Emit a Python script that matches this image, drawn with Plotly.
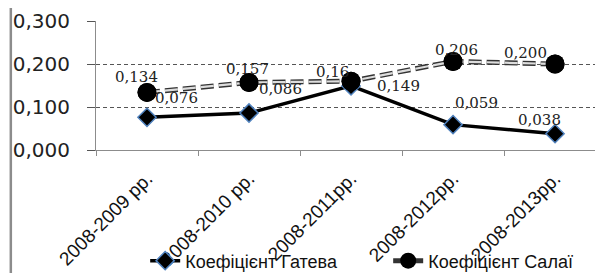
import plotly.graph_objects as go

categories = ["2008-2009 рр.", "2008-2010 рр.", "2008-2011рр.", "2008-2012рр.", "2008-2013рр."]
gatev = [0.076, 0.086, 0.149, 0.059, 0.038]
salai = [0.134, 0.157, 0.16, 0.206, 0.200]
gatev_labels = ["0,076", "0,086", "0,149", "0,059", "0,038"]
salai_labels = ["0,134", "0,157", "0,16", "0,206", "0,200"]
series_names = ["Коефіцієнт Гатева", "Коефіцієнт Салаї"]

# label offsets (px) for data labels
gatev_shift = [(29, 19), (31, 24), (47, 0), (23, 22), (-16, 14)]
salai_shift = [(-11, 15), (-2, 13), (-19, 9), (3, 11), (-30, 11)]

fig = go.Figure()

fig.add_trace(go.Scatter(
    x=categories, y=gatev, name=series_names[0], mode="lines+markers",
    line=dict(color="black", width=3.5),
    marker=dict(symbol="diamond", size=14, color="black",
                line=dict(color="#4f81bd", width=1.5)),
))
fig.add_trace(go.Scatter(
    x=categories, y=salai, name=series_names[1], mode="lines+markers",
    line=dict(color="#333333", width=5, dash="13px,5px"),
    marker=dict(symbol="circle", size=19, color="black"),
))
fig.add_trace(go.Scatter(
    x=categories, y=salai, showlegend=False, mode="lines", hoverinfo="skip",
    line=dict(color="#dddddd", width=2.2, dash="13px,5px"),
))
fig.add_trace(go.Scatter(
    x=categories, y=salai, showlegend=False, mode="markers", hoverinfo="skip",
    marker=dict(symbol="circle", size=19, color="black"),
))

annotations = []
label_font = dict(family="DejaVu Serif", size=15, color="#222222")
for c, v, t, (dx, dy) in zip(categories, gatev, gatev_labels, gatev_shift):
    annotations.append(dict(x=c, y=v, text=t, showarrow=False, xshift=dx, yshift=dy,
                            font=label_font))
for c, v, t, (dx, dy) in zip(categories, salai, salai_labels, salai_shift):
    annotations.append(dict(x=c, y=v, text=t, showarrow=False, xshift=dx, yshift=dy,
                            font=label_font))

# page body has an 8px margin, so the figure is sized to fit the window
fig.update_layout(
    width=595, height=265,
    margin=dict(l=88, r=0, t=13, b=123, autoexpand=False),
    paper_bgcolor="white", plot_bgcolor="white",
    separators=", ",
    showlegend=True,
    legend=dict(orientation="h", x=0.097, xanchor="left", y=-0.86, yanchor="middle",
                font=dict(family="Liberation Sans", size=18, color="#111111"),
                bgcolor="rgba(0,0,0,0)", entrywidth=198, tracegroupgap=0),
    annotations=annotations,
    shapes=[dict(type="rect", xref="paper", yref="paper",
                 x0=-0.168, x1=1.03, y0=-1.2, y1=1.2,
                 line=dict(color="#8c8c8c", width=2.5), layer="below")],
)

fig.update_xaxes(
    type="category", range=[-0.5, 4.47], tickson="boundaries", automargin=False,
    showline=True, linecolor="#8c8c8c", linewidth=1,
    ticks="outside", ticklen=5, tickcolor="#8c8c8c",
    tickangle=-45, tickfont=dict(family="Liberation Sans", size=19, color="#111111"),
    ticklabelstandoff=9,
    showgrid=False,
)
fig.update_yaxes(
    range=[0, 0.3], tickvals=[0, 0.1, 0.2, 0.3], tickformat=".3f", automargin=False,
    showline=True, linecolor="#8c8c8c", linewidth=1,
    ticks="outside", ticklen=8, tickcolor="#555555",
    showgrid=True, gridcolor="#555555", griddash="4px,3px", gridwidth=1,
    tickfont=dict(family="DejaVu Sans", size=20, color="#222222"),
    ticklabelstandoff=13, zeroline=False,
)

fig.write_html("out.html")
